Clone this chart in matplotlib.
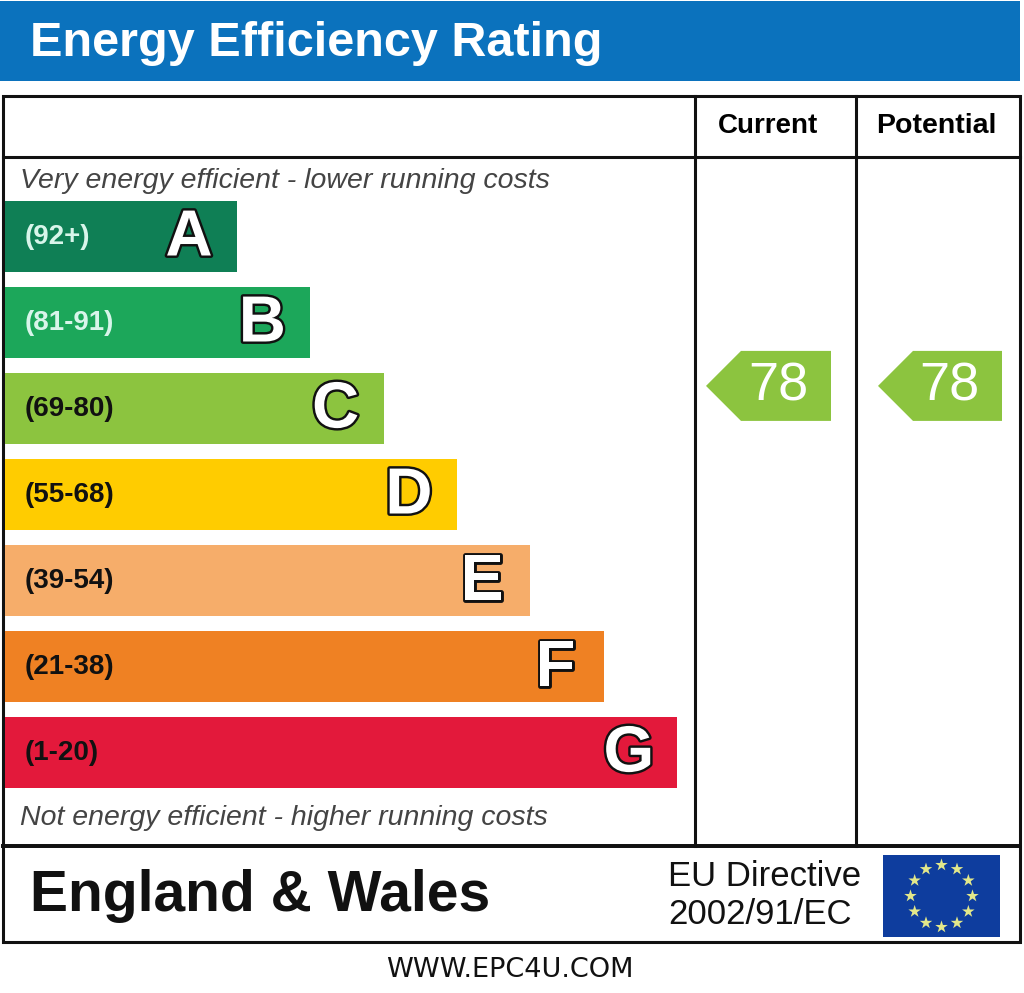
import matplotlib
matplotlib.use("Agg")
import matplotlib.pyplot as plt
import matplotlib.patheffects as pe
from matplotlib.patches import Rectangle, Polygon
import numpy as np

# rating bands, best to worst
bands = ["A", "B", "C", "D", "E", "F", "G"]
ranges = ["(92+)", "(81-91)", "(69-80)", "(55-68)", "(39-54)", "(21-38)", "(1-20)"]
band_lo = [92, 81, 69, 55, 39, 21, 1]
band_hi = [100, 91, 80, 68, 54, 38, 20]
band_colors = ["#0f7f55", "#1ca75a", "#8cc43f", "#ffcc00", "#f6ad6a", "#ef8123", "#e3193b"]
range_text_colors = ["#d8f5ea", "#d8f5ea", "#111111", "#111111", "#111111", "#111111", "#111111"]

current = 78
potential = 78

W, H = 1024, 993
fig = plt.figure(figsize=(W / 100, H / 100), dpi=100)
ax = fig.add_axes([0, 0, 1, 1])
ax.set_xlim(0, W)
ax.set_ylim(H, 0)
ax.axis("off")

font = "Liberation Sans"

# title bar
ax.add_patch(Rectangle((0, 1), 1020, 80, facecolor="#0b72bd", edgecolor="none"))
ax.text(30, 44, "Energy Efficiency Rating", color="white", fontsize=35, fontweight="bold",
        family=font, va="center", ha="left")

# frame
lw = 2.2
ax.add_patch(Rectangle((3, 96), 1017, 846, facecolor="none", edgecolor="#111111", lw=lw))
ax.plot([3, 1020], [157, 157], color="#111111", lw=lw)
ax.plot([3, 1020], [846, 846], color="#111111", lw=lw * 1.3)
for xv in [695, 856]:
    ax.plot([xv, xv], [96, 846], color="#111111", lw=lw)

ax.text(768, 126, "Current", fontsize=20, fontweight="bold", family=font, ha="center", va="center")
ax.text(936, 126, "Potential", fontsize=20.5, fontweight="bold", family=font, ha="center", va="center")

ax.text(20, 181, "Very energy efficient - lower running costs", fontsize=20.5, style="italic",
        color="#444444", family=font, ha="left", va="center")
ax.text(20, 818, "Not energy efficient - higher running costs", fontsize=20.5, style="italic",
        color="#444444", family=font, ha="left", va="center")

# bands
top0, step, bh = 201, 86, 71
right0, dright = 237, 73.3
band_tops = []
for i, (b, r) in enumerate(zip(bands, ranges)):
    top = top0 + i * step
    right = right0 + i * dright
    band_tops.append(top)
    ax.add_patch(Rectangle((5, top), right - 5, bh, facecolor=band_colors[i], edgecolor="none"))
    ax.text(25, top + bh / 2, r, fontsize=20, fontweight="bold", family=font,
            color=range_text_colors[i], ha="left", va="center")
    ax.text(right - 48, top + bh / 2 + 2, b, fontsize=47, fontweight="bold", family=font,
            color="white", ha="center", va="center",
            path_effects=[pe.withStroke(linewidth=3.5, foreground="#111111")])


def score_y(score):
    for i in range(len(bands)):
        if band_lo[i] <= score <= band_hi[i]:
            frac = (band_hi[i] - score) / (band_hi[i] - band_lo[i])
            return band_tops[i] + frac * bh
    return band_tops[-1] + bh


def arrow(x0, x1, score):
    yc = score_y(score)
    h = 70
    notch = 35
    pts = [(x0, yc), (x0 + notch, yc - h / 2), (x1, yc - h / 2), (x1, yc + h / 2), (x0 + notch, yc + h / 2)]
    idx = [i for i in range(len(bands)) if band_lo[i] <= score <= band_hi[i]][0]
    ax.add_patch(Polygon(pts, closed=True, facecolor=band_colors[idx], edgecolor="none"))
    ax.text((x0 + notch + x1) / 2 - 8, yc + 1, str(score), fontsize=39, color="white",
            family=font, ha="center", va="center")


arrow(706, 831, current)
arrow(878, 1002, potential)

# footer
ax.text(30, 896, "England & Wales", fontsize=41, fontweight="bold", family=font,
        ha="left", va="center", color="#111111")
ax.text(668, 876, "EU Directive", fontsize=25, family=font, ha="left", va="center", color="#111111")
ax.text(668, 914, "2002/91/EC", fontsize=25, family=font, ha="left", va="center", color="#111111")

# EU flag
fx0, fy0, fw, fh = 883, 855, 117, 82
ax.add_patch(Rectangle((fx0, fy0), fw, fh, facecolor="#0e3d9e", edgecolor="none"))
cx, cy, rad = fx0 + fw / 2, fy0 + fh / 2, 31
ang = np.arange(12) * 2 * np.pi / 12
ax.scatter(cx + rad * np.sin(ang), cy - rad * np.cos(ang), marker="*", s=90,
           color="#e3e88a", edgecolors="none", zorder=5)

ax.text(510, 970, "WWW.EPC4U.COM", fontsize=19.5, family="DejaVu Sans", ha="center", va="center",
        color="#111111")

fig.savefig("out.png", dpi=100, facecolor="white")
